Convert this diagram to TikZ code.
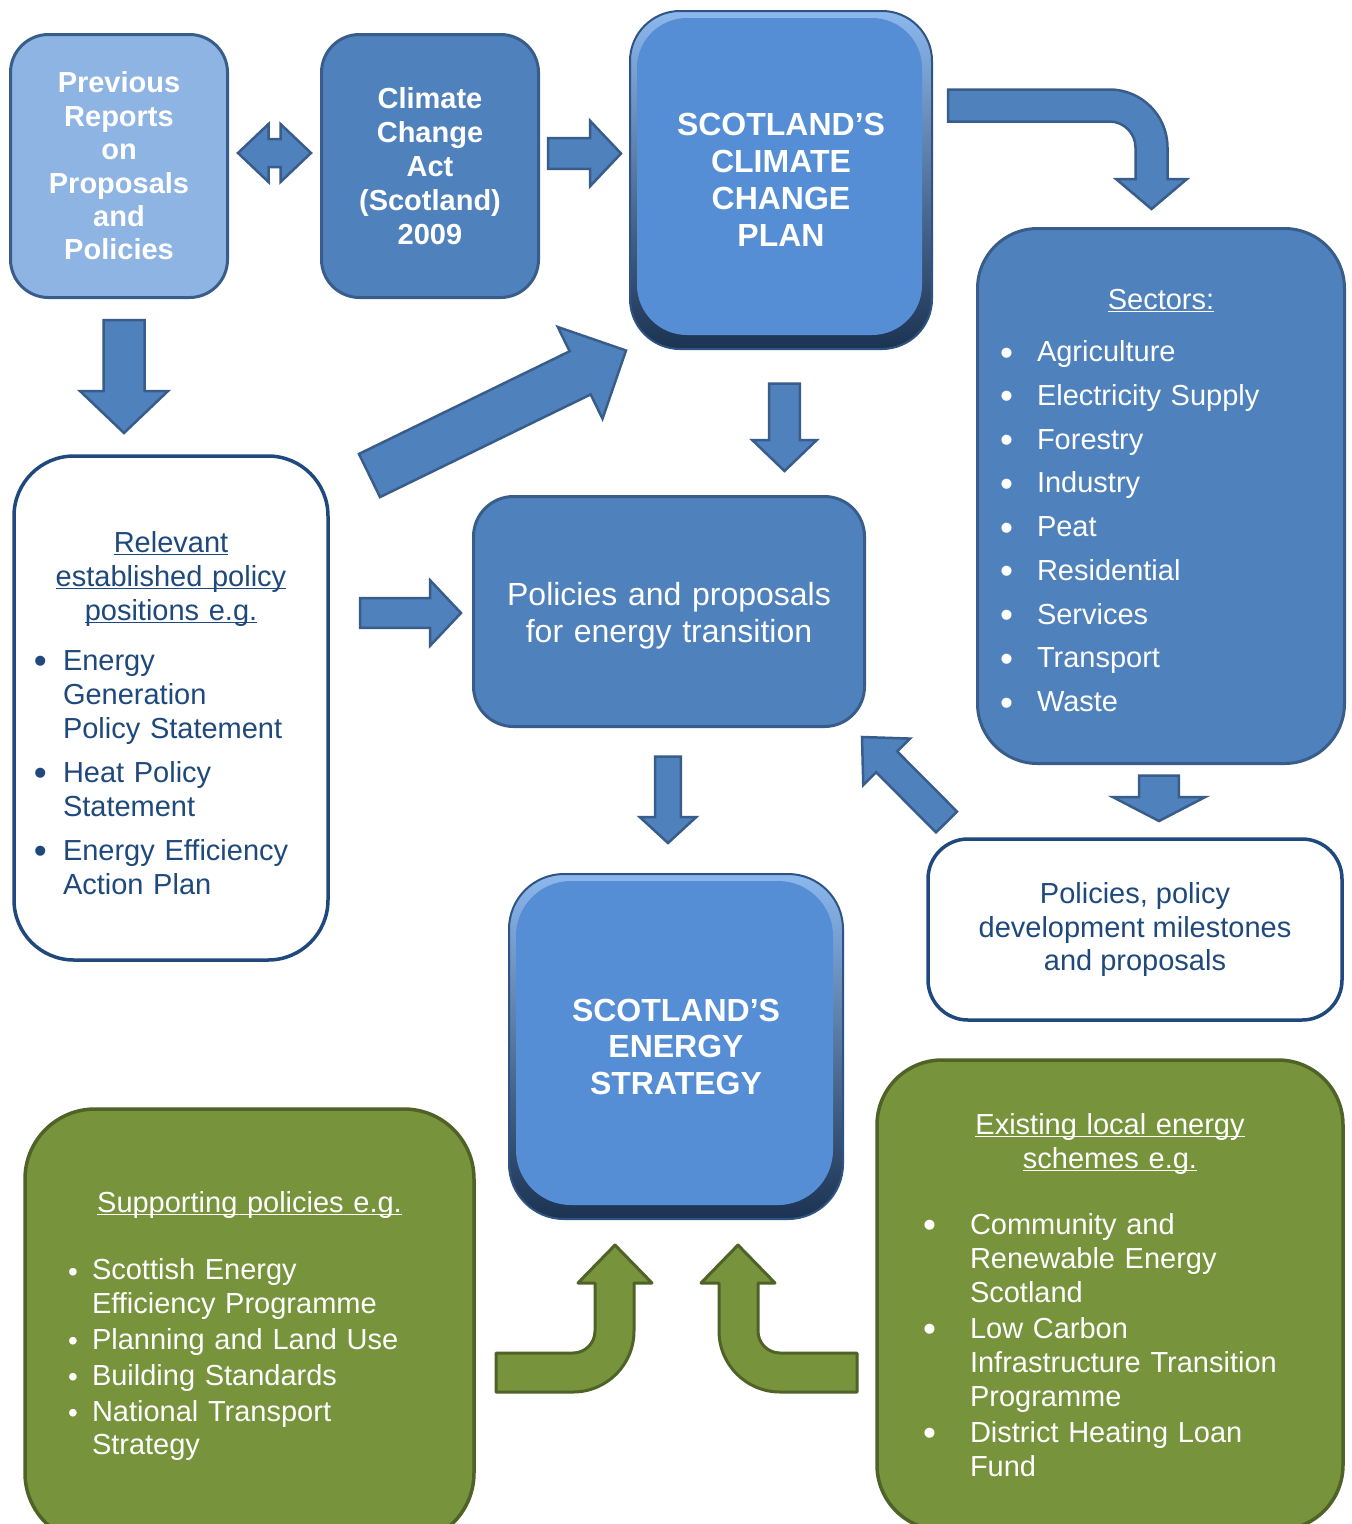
\documentclass[tikz,border=0pt]{standalone}
\usepackage{fontspec}
\setmainfont{Liberation Sans}
\usetikzlibrary{calc}

\definecolor{arrowfill}{HTML}{4F81BD}
\definecolor{arrowline}{HTML}{385D8A}
\definecolor{lightfill}{HTML}{8EB4E3}
\definecolor{navy}{HTML}{1F497D}
\definecolor{olivefill}{HTML}{77933C}
\definecolor{oliveline}{HTML}{4F6228}
\definecolor{faceblue}{HTML}{558ED5}
\definecolor{rimtop}{HTML}{8CB8EE}
\definecolor{rimbottom}{HTML}{1C3352}
\definecolor{rimline}{HTML}{2F5382}

% Aufzaehlungspunkte
\newcommand{\bul}[1]{\makebox[#1][l]{\raisebox{-3.5pt}{\fontsize{37}{37}\selectfont\textbullet}}}
\newcommand{\sbul}{\makebox[24pt][l]{\raisebox{-1.5pt}{\fontsize{28}{28}\selectfont\textbullet}}}

% Blockpfeil: Ende, Spitze, halbe Schaftbreite, halbe Kopfbreite, Kopflaenge
\newcommand{\blockarrow}[5]{%
  \coordinate (headbase) at ($(#2)!#5!(#1)$);
  \draw[arrowbox] ($(#1)!#3!90:(#2)$) -- ($(headbase)!#3!90:(#2)$) -- ($(headbase)!#4!90:(#2)$) -- (#2)
    -- ($(headbase)!#4!-90:(#2)$) -- ($(headbase)!#3!-90:(#2)$) -- ($(#1)!#3!-90:(#2)$) -- cycle;
}

\begin{document}
\begin{tikzpicture}[
        x=1pt, y=-1pt,
        box/.style={rectangle, draw=arrowline, line width=3pt, inner sep=0pt, align=center, text=white},
        plainbox/.style={box, fill=arrowfill},
        whitebox/.style={box, draw=navy, line width=3.5pt, fill=white, text=navy},
        greenbox/.style={box, draw=oliveline, line width=3.5pt, fill=olivefill},
        bevelbox/.style={rectangle, rounded corners=#1, inner sep=0pt, align=center, text=white,
            draw=rimline, line width=2pt, top color=rimtop, bottom color=rimbottom,
            path picture={\fill[faceblue, rounded corners=#1]
                ([shift={(7pt,-7pt)}]path picture bounding box.north west) rectangle
                ([shift={(-10pt,14pt)}]path picture bounding box.south east);}},
        arrowbox/.style={fill=arrowfill, draw=arrowline, line width=2.5pt},
        greenarrow/.style={fill=olivefill, draw=oliveline, line width=3pt, line join=round}
    ]

    % Seitenformat
    \useasboundingbox (0,0) rectangle (1352,1524);
    \fill[white] (0,0) rectangle (1352,1524);
    \clip (0,0) rectangle (1352,1524);

    % Obere Reihe
    \node[plainbox, fill=lightfill, rounded corners=38pt, minimum width=217pt, minimum height=263pt, font=\bfseries\fontsize{29}{33.4}\selectfont] (prev_reports) at (119,166) {Previous\\Reports\\on\\Proposals\\and\\Policies};
    \node[plainbox, rounded corners=38pt, minimum width=217pt, minimum height=263pt, font=\bfseries\fontsize{29}{34}\selectfont] (climate_act) at (430,166) {Climate\\Change\\Act\\(Scotland)\\2009};
    \node[bevelbox=50pt, minimum width=302pt, minimum height=338pt, font=\bfseries\fontsize{32}{37}\selectfont] (climate_plan) at (781,180) {SCOTLAND’S\\CLIMATE\\CHANGE\\PLAN};

    % Sektoren rechts
    \node[plainbox, rounded corners=60pt, minimum width=367pt, minimum height=535pt, text width=322pt, align=left, font=\fontsize{29}{43.75}\selectfont] (sectors) at (1161,496) {\rule{0pt}{33pt}\makebox[\linewidth]{\underbar{Sectors:}}\\[8pt]
        \bul{37pt}Agriculture\\
        \bul{37pt}Electricity Supply\\
        \bul{37pt}Forestry\\
        \bul{37pt}Industry\\
        \bul{37pt}Peat\\
        \bul{37pt}Residential\\
        \bul{37pt}Services\\
        \bul{37pt}Transport\\
        \bul{37pt}Waste};

    % Bestehende Politik links
    \node[whitebox, rounded corners=60pt, minimum width=314pt, minimum height=504pt, text width=274pt, align=left, font=\fontsize{29}{34}\selectfont] (relevant_policy) at (171,708) {\rule{0pt}{31pt}\makebox[\linewidth]{\underbar{Relevant}}\\
        \makebox[\linewidth]{\underbar{established policy}}\\
        \makebox[\linewidth]{\underbar{positions e.g.}}\\[16pt]
        \bul{29pt}Energy\\
        \hspace*{29pt}Generation\\
        \hspace*{29pt}Policy Statement\\[10pt]
        \bul{29pt}Heat Policy\\
        \hspace*{29pt}Statement\\[10pt]
        \bul{29pt}Energy Efficiency\\
        \hspace*{29pt}Action Plan};

    % Mitte
    \node[plainbox, rounded corners=40pt, minimum width=391pt, minimum height=230pt, text width=380pt, align=center, font=\fontsize{32}{37}\selectfont] (energy_transition) at (669,611.5) {\rule{0pt}{31.5pt}Policies and proposals\\for energy transition};
    \node[whitebox, rounded corners=40pt, minimum width=414pt, minimum height=181pt, font=\fontsize{29}{33.5}\selectfont] (milestones) at (1135,929.5) {Policies, policy\\development milestones\\and proposals};
    \node[bevelbox=55pt, minimum width=334pt, minimum height=345pt, font=\bfseries\fontsize{32}{36.5}\selectfont] (energy_strategy) at (676,1046.5) {SCOTLAND’S\\ENERGY\\STRATEGY};

    % Untere Reihe
    \node[greenbox, rounded corners=70pt, minimum width=449pt, minimum height=434pt, text width=363pt, align=left, font=\fontsize{29}{33.5}\selectfont] (supporting) at (249.5,1326) {\makebox[\linewidth]{\underbar{Supporting policies e.g.}}\\[33.5pt]
        \sbul Scottish Energy\\
        \hspace*{24pt}Efficiency Programme\\[2.5pt]
        \sbul Planning and Land Use\\[2.5pt]
        \sbul Building Standards\\[2.5pt]
        \sbul National Transport\\
        \hspace*{24pt}Strategy};
    \node[greenbox, rounded corners=65pt, minimum width=466pt, minimum height=470pt, text width=374pt, align=left, font=\fontsize{29}{34}\selectfont] (local_schemes) at (1110,1295) {\makebox[\linewidth]{\underbar{Existing local energy}}\\
        \makebox[\linewidth]{\underbar{schemes e.g.}}\\[32pt]
        \bul{47pt}Community and\\
        \hspace*{47pt}Renewable Energy\\
        \hspace*{47pt}Scotland\\[2pt]
        \bul{47pt}Low Carbon\\
        \hspace*{47pt}Infrastructure Transition\\
        \hspace*{47pt}Programme\\[2pt]
        \bul{47pt}District Heating Loan\\
        \hspace*{47pt}Fund};

    % Pfeilenden
    \coordinate (swap_left) at (238,153);
    \coordinate (swap_right) at (311,153);
    \coordinate (reports_out) at (124,320);
    \coordinate (relevant_in) at (124,433);
    \coordinate (act_out) at (548,153.5);
    \coordinate (plan_in) at (621,153.5);
    \coordinate (relevant_out) at (369.5,475.5);
    \coordinate (plan_in2) at (626,350.5);
    \coordinate (plan_out) at (784.5,383.5);
    \coordinate (transition_in) at (784.5,471);
    \coordinate (relevant_out2) at (360,613);
    \coordinate (transition_in2) at (461,613);
    \coordinate (transition_out) at (668,756.5);
    \coordinate (strategy_in) at (668,843);
    \coordinate (milestones_out) at (946.5,822);
    \coordinate (transition_in3) at (862,737);
    \coordinate (sectors_out) at (1159,775.5);
    \coordinate (milestones_in) at (1159,821);
    \coordinate (plan_out2) at (948,89.5);
    \coordinate (supporting_out) at (496,1353);
    \coordinate (schemes_out) at (857,1353);

    % Blockpfeile
    \draw[arrowbox] (swap_left) -- ++(30.5,-29) -- ++(0,15) -- ++(12,0) -- ++(0,-15) -- (swap_right)
        -- ++(-30.5,29) -- ++(0,-15) -- ++(-12,0) -- ++(0,15) -- cycle;
    \blockarrow{reports_out}{relevant_in}{20.5pt}{44pt}{42pt}
    \blockarrow{act_out}{plan_in}{15.3pt}{32.8pt}{31pt}
    \blockarrow{relevant_out}{plan_in2}{24pt}{51pt}{51pt}
    \blockarrow{plan_out}{transition_in}{15.3pt}{32.3pt}{31pt}
    \blockarrow{relevant_out2}{transition_in2}{14.8pt}{32.8pt}{31pt}
    \blockarrow{transition_out}{strategy_in}{12.8pt}{28.3pt}{26pt}
    \blockarrow{milestones_out}{transition_in3}{14.8pt}{33pt}{35pt}
    \blockarrow{sectors_out}{milestones_in}{19.8pt}{46.3pt}{24pt}

    % Gebogene Pfeile
    \draw[arrowbox] (plan_out2) -- (1109.5,89.5) arc[start angle=-90, end angle=0, radius=58]
        -- (1167.5,179) -- (1187,179) -- (1151.5,209) -- (1116,179) -- (1135.5,179) -- (1135.5,147.5)
        arc[start angle=0, end angle=-90, radius=26] -- (948,121.5) -- cycle;
    \draw[greenarrow] (supporting_out) -- (573,1353) arc[start angle=90, end angle=0, radius=22]
        -- (595,1283) -- (578,1283) -- (615,1245) -- (652,1283) -- (634,1283) -- (634,1331)
        arc[start angle=0, end angle=90, radius=61] -- (496,1392) -- cycle;
    \draw[greenarrow] (schemes_out) -- (780,1353) arc[start angle=90, end angle=180, radius=22]
        -- (758,1283) -- (775,1283) -- (738,1245) -- (701,1283) -- (719,1283) -- (719,1331)
        arc[start angle=180, end angle=90, radius=61] -- (857,1392) -- cycle;

\end{tikzpicture}
\end{document}
